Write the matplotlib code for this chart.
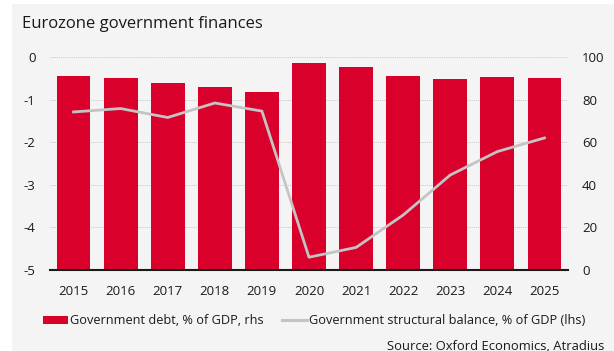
"""
Eurozone government finances: debt ratio (bars, rhs) and structural balance (line, lhs).
"""
import matplotlib
matplotlib.use("Agg")
import matplotlib.pyplot as plt
from matplotlib.patches import Patch, Rectangle
from matplotlib.lines import Line2D

plt.rcParams["font.family"] = ["Open Sans", "DejaVu Sans"]
plt.rcParams["axes.unicode_minus"] = False

YEARS = ["2015", "2016", "2017", "2018", "2019", "2020",
         "2021", "2022", "2023", "2024", "2025"]
DEBT = [91.1, 90.3, 87.6, 85.8, 83.7, 97.0, 95.1, 91.2, 89.8, 90.5, 90.0]
STRUCT_BAL = [-1.29, -1.21, -1.42, -1.08, -1.27, -4.70,
              -4.47, -3.71, -2.77, -2.22, -1.90]

RED = "#d9002b"
GREY_LINE = "#c4c4c4"
PANEL = "#f4f4f4"
INK = "#1a1a1a"

fig = plt.figure(figsize=(6.14, 3.51), dpi=100, facecolor="white")
fig.patches.append(Rectangle((12 / 614, 0), 1, 1 - 4 / 351,
                             transform=fig.transFigure, facecolor=PANEL,
                             edgecolor="none", zorder=-10))

ax = fig.add_axes([50 / 614, 81 / 351, 518 / 614, 213 / 351])
ax.patch.set_visible(False)
x = range(len(YEARS))

# debt bars live on the right-hand scale
ax.bar(x, DEBT, width=0.72, color=RED, zorder=2)
ax.set_ylim(0, 100)
ax.set_yticks([0, 20, 40, 60, 80, 100])
ax.set_xlim(-0.5, len(YEARS) - 0.5)
ax.set_xticks(list(x))
ax.set_xticklabels(YEARS)
ax.set_axisbelow(True)
ax.grid(axis="y", color="#c4c4c4", linestyle=(0, (1, 1.2)), linewidth=0.7)

# structural balance on the left-hand scale
ax2 = ax.twinx()
ax2.plot(x, STRUCT_BAL, color=GREY_LINE, linewidth=2.0, zorder=3)
ax2.set_ylim(-5, 0)
ax2.set_yticks([-5, -4, -3, -2, -1, 0])

# twinx puts the host ticks on the left, so swap sides afterwards
ax.yaxis.tick_right()
ax2.yaxis.tick_left()

for a in (ax, ax2):
    for side in ("top", "left", "right", "bottom"):
        a.spines[side].set_visible(False)
ax.spines["bottom"].set_visible(True)
ax.spines["bottom"].set_linewidth(1.5)
ax.spines["bottom"].set_color(INK)
ax.spines["bottom"].set_zorder(4)

ax.tick_params(axis="x", length=0, pad=10.5, labelsize=9.5, colors=INK)
ax.tick_params(axis="y", length=0, pad=10, labelsize=9.5, colors=INK)
ax2.tick_params(axis="y", length=0, pad=10.5, labelsize=9.5, colors=INK)

fig.text(22 / 614, 1 - 28.5 / 351, "Eurozone government finances",
         fontsize=12, color=INK, va="baseline", ha="left")

handles = [
    Patch(facecolor=RED, edgecolor="none",
          label="Government debt, % of GDP, rhs"),
    Line2D([], [], color=GREY_LINE, linewidth=2.2,
           label="Government structural balance, % of GDP (lhs)"),
]
fig.legend(handles=handles, loc="center left",
           bbox_to_anchor=(43 / 614, 1 - 321 / 351), ncol=2,
           frameon=False, fontsize=9.2, borderpad=0, borderaxespad=0,
           handlelength=1.95, handleheight=0.65, handletextpad=0.15,
           columnspacing=1.45, labelcolor=INK)

fig.text(604 / 614, 1 - 346 / 351, "Source: Oxford Economics, Atradius",
         fontsize=9.35, color=INK, ha="right", va="center")

fig.savefig("out.png", dpi=100, facecolor=fig.get_facecolor())
